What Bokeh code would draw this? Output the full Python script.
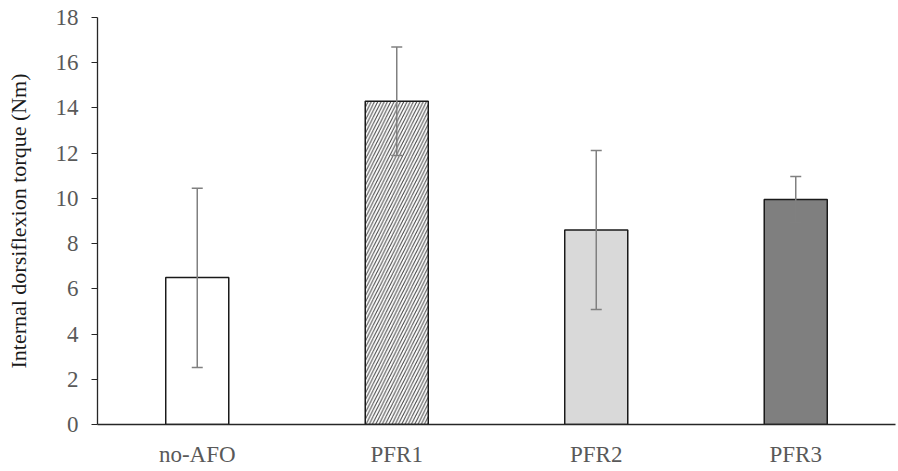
from bokeh.plotting import figure
from bokeh.models import ColumnDataSource, FactorRange, Range1d, Whisker, TeeHead, FixedTicker
from bokeh.embed import file_html
from bokeh.resources import INLINE

categories = ["no-AFO", "PFR1", "PFR2", "PFR3"]
means = [6.5, 14.3, 8.6, 9.95]
upper = [10.45, 16.7, 12.12, 10.97]
lower = [2.52, 11.9, 5.09, 8.94]
fills = ["#ffffff", "#ffffff", "#d9d9d9", "#7f7f7f"]
hatches = [" ", "/", " ", " "]
y_ticks = [0, 2, 4, 6, 8, 10, 12, 14, 16, 18]

src = ColumnDataSource(dict(cat=categories, mean=means, upper=upper, lower=lower,
                            fill=fills, hatch=hatches))

p = figure(x_range=FactorRange(*categories, range_padding=0), y_range=Range1d(0, 18),
           width=896, height=469, output_backend="svg", toolbar_location=None,
           min_border_left=97, min_border_right=1, min_border_top=17, min_border_bottom=45)
p.outline_line_color = None
p.xgrid.grid_line_color = None
p.ygrid.grid_line_color = None
p.background_fill_color = "white"

p.vbar(x="cat", top="mean", bottom=0, width=0.316, source=src,
       fill_color="fill", line_color="#1a1a1a", line_width=1.5,
       hatch_pattern="hatch", hatch_color="#404040", hatch_scale=6.5, hatch_weight=1.0)

w = Whisker(base="cat", upper="upper", lower="lower", source=src, level="overlay",
            line_color="#808080", line_width=1.5,
            upper_head=TeeHead(size=11, line_color="#808080", line_width=1.5),
            lower_head=TeeHead(size=11, line_color="#808080", line_width=1.5))
p.add_layout(w)

font = "Liberation Serif"
tc = "#595959"
p.yaxis.ticker = FixedTicker(ticks=y_ticks)
p.yaxis.axis_label = "Internal dorsiflexion torque (Nm)"
p.yaxis.axis_label_text_font = font
p.yaxis.axis_label_text_font_style = "normal"
p.yaxis.axis_label_text_font_size = "22px"
p.yaxis.axis_label_text_color = "#1a1a1a"
p.yaxis.axis_label_standoff = 22
p.yaxis.major_label_text_font = font
p.yaxis.major_label_text_font_size = "23px"
p.yaxis.major_label_text_color = tc
p.yaxis.major_label_standoff = 13
p.yaxis.major_tick_out = 6
p.yaxis.major_tick_in = 0
p.yaxis.minor_tick_line_color = None
p.yaxis.axis_line_color = "#262626"
p.yaxis.major_tick_line_color = "#262626"
p.yaxis.axis_line_width = 1.3

p.xaxis.major_label_text_font = font
p.xaxis.major_label_text_font_size = "23px"
p.xaxis.major_label_text_color = tc
p.xaxis.major_label_standoff = 11
p.xaxis.major_tick_line_color = None
p.xaxis.minor_tick_line_color = None
p.xaxis.axis_line_color = "#262626"
p.xaxis.axis_line_width = 1.3

open("out.html", "w").write(file_html(p, INLINE))
